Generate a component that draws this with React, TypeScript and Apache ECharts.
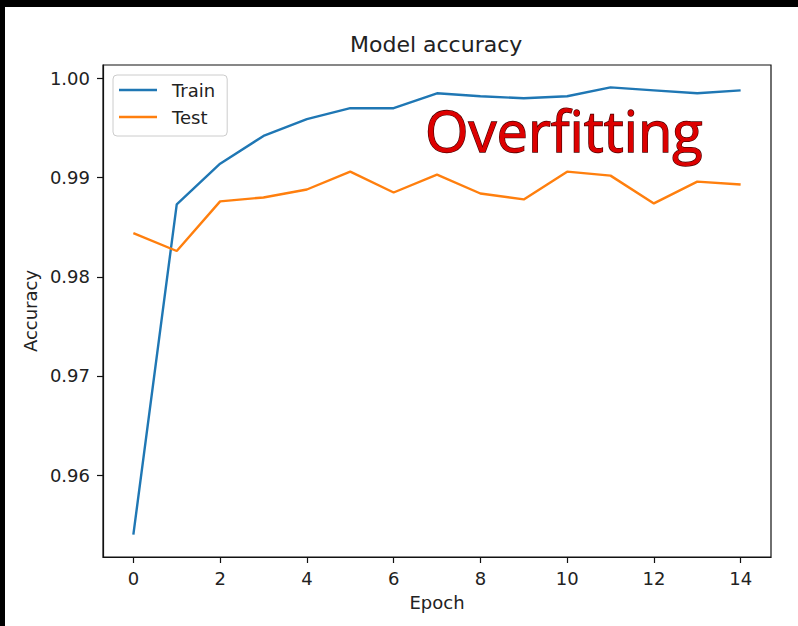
import React, { useEffect, useRef } from "react";
import * as echarts from "echarts";

const epochs = [0, 1, 2, 3, 4, 5, 6, 7, 8, 9, 10, 11, 12, 13, 14];
const trainAcc = [0.954, 0.9873, 0.9914, 0.9942, 0.9959, 0.997, 0.997, 0.9985, 0.9982, 0.998, 0.9982, 0.9991, 0.9988, 0.9985, 0.9988];
const testAcc = [0.9844, 0.9826, 0.9876, 0.988, 0.9888, 0.9906, 0.9885, 0.9903, 0.9884, 0.9878, 0.9906, 0.9902, 0.9874, 0.9896, 0.9893];
const xTickValues = [0, 2, 4, 6, 8, 10, 12, 14];
const yTickValues = [0.96, 0.97, 0.98, 0.99, 1.0];
const seriesNames = ["Train", "Test"];
const titleText = "Model accuracy";
const xName = "Epoch";
const yName = "Accuracy";
const annotation = "Overfitting";

const FONT = "DejaVu Sans";

export default function App() {
  const ref = useRef<HTMLDivElement>(null);
  useEffect(() => {
    if (!ref.current) return;
    const chart = echarts.init(ref.current, undefined, { renderer: "svg" });
    const all = [...trainAcc, ...testAcc];
    const yLo = Math.min(...all);
    const yHi = Math.max(...all);
    const yPad = (yHi - yLo) * 0.05;
    const xLo = Math.min(...epochs);
    const xHi = Math.max(...epochs);
    const xPad = (xHi - xLo) * 0.05;
    const labelStyle = { color: "#222", fontSize: 18, fontFamily: FONT };
    chart.setOption({
      animation: false,
      backgroundColor: "#fff",
      title: {
        text: titleText,
        left: 350,
        top: 33,
        padding: 0,
        textStyle: { color: "#222", fontSize: 22, fontWeight: "normal", fontFamily: FONT },
      },
      legend: {
        data: seriesNames,
        orient: "vertical",
        left: 113,
        top: 75,
        icon: "rect",
        itemWidth: 38,
        itemHeight: 2.6,
        itemGap: 9,
        padding: [6, 12, 10, 6],
        backgroundColor: "rgba(255,255,255,0.8)",
        borderColor: "#cccccc",
        borderWidth: 1,
        borderRadius: 4,
        textStyle: { color: "#222", fontSize: 18, fontFamily: FONT, padding: [0, 0, 0, 10] },
      },
      grid: {
        left: 103,
        top: 65,
        right: 27,
        bottom: 69,
        show: true,
        borderColor: "#111",
        borderWidth: 1.2,
        backgroundColor: "#fff",
      },
      xAxis: {
        type: "value",
        min: xLo - xPad,
        max: xHi + xPad,
        name: xName,
        nameLocation: "middle",
        nameGap: 36,
        nameTextStyle: labelStyle,
        axisLine: { show: true, onZero: false, lineStyle: { color: "#111", width: 1.2 } },
        axisTick: { show: true, customValues: xTickValues, length: 6, lineStyle: { color: "#111", width: 1.2 } },
        axisLabel: { ...labelStyle, customValues: xTickValues, margin: 12, formatter: (v: number) => String(v) },
        splitLine: { show: false },
      },
      yAxis: {
        type: "value",
        min: yLo - yPad,
        max: yHi + yPad,
        name: yName,
        nameLocation: "middle",
        nameGap: 63,
        nameRotate: 90,
        nameTextStyle: labelStyle,
        axisLine: { show: true, onZero: false, lineStyle: { color: "#111", width: 1.2 } },
        axisTick: { show: true, customValues: yTickValues, length: 6, lineStyle: { color: "#111", width: 1.2 } },
        axisLabel: { ...labelStyle, customValues: yTickValues, margin: 13, formatter: (v: number) => v.toFixed(2) },
        splitLine: { show: false },
      },
      series: [
        {
          name: seriesNames[0],
          type: "line",
          data: epochs.map((e, i) => [e, trainAcc[i]]),
          showSymbol: false,
          symbol: "none",
          lineStyle: { color: "#1f77b4", width: 2.4 },
          itemStyle: { color: "#1f77b4" },
        },
        {
          name: seriesNames[1],
          type: "line",
          data: epochs.map((e, i) => [e, testAcc[i]]),
          showSymbol: false,
          symbol: "none",
          lineStyle: { color: "#ff7f0e", width: 2.4 },
          itemStyle: { color: "#ff7f0e" },
        },
      ],
      graphic: [
        {
          type: "text",
          x: 425,
          y: 130,
          z: 50,
          style: {
            text: annotation,
            fontFamily: "Open Sans",
            fontSize: 56,
            fill: "#dd0000",
            stroke: "#4a0000",
            lineWidth: 1.3,
            verticalAlign: "middle",
            shadowColor: "rgba(40,0,0,0.8)",
            shadowBlur: 2,
            shadowOffsetX: 2,
            shadowOffsetY: 2,
          },
        },
        { type: "rect", z: 100, shape: { x: 0, y: 0, width: 798, height: 7 }, style: { fill: "#000" } },
        { type: "rect", z: 100, shape: { x: 0, y: 0, width: 5, height: 626 }, style: { fill: "#000" } },
      ],
    });
    return () => chart.dispose();
  }, []);
  return <div ref={ref} style={{ position: "fixed", left: 0, top: 0, width: 798, height: 626 }} />;
}
